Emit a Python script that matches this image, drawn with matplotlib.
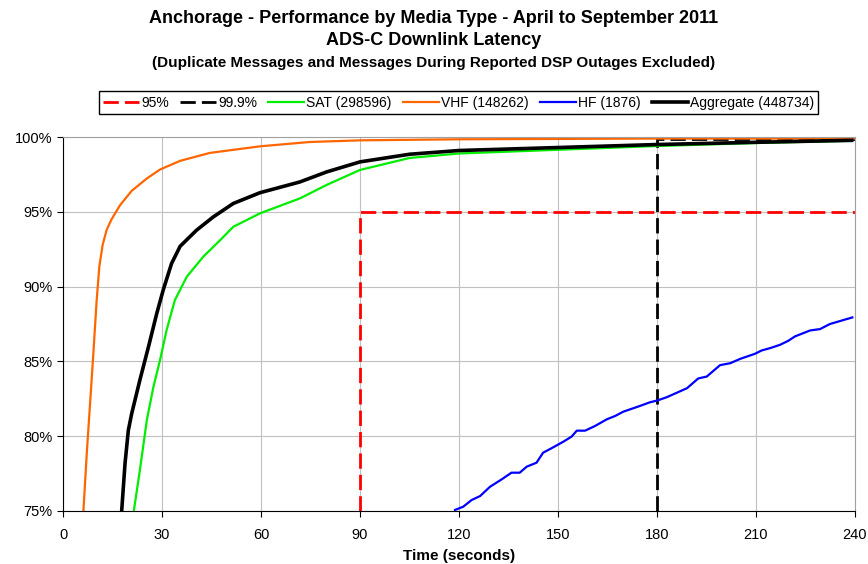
import matplotlib.pyplot as plt
from matplotlib.ticker import FuncFormatter

plt.rcParams['font.family'] = ['Liberation Sans', 'DejaVu Sans']

# Données (temps en secondes, pourcentage cumulé)
vhf_t = [6.2, 7.2, 8.2, 9.2, 10.2, 11.0, 12.0, 13.2, 14.7, 17.3, 20.8, 25.4, 29.4, 35.5, 44.5,
         59.7, 74.8, 90, 120, 180, 240]
vhf_y = [75.07, 78.86, 82.2, 85.55, 89.1, 91.33, 92.78, 93.78, 94.5, 95.45, 96.4, 97.23, 97.83, 98.41, 98.94,
         99.38, 99.67, 99.78, 99.85, 99.9, 99.9]

agg_t = [17.8, 18.8, 19.8, 20.8, 23.3, 25.9, 28.4, 30.4, 32.9, 35.5, 40.5, 45.6, 51.6, 59.7, 71.8,
         79.9, 90, 105, 120, 150, 180, 210, 239]
agg_y = [75.07, 78.2, 80.4, 81.5, 83.76, 85.98, 88.2, 89.8, 91.55, 92.7, 93.78, 94.67, 95.56, 96.28, 97.0,
         97.67, 98.34, 98.85, 99.1, 99.3, 99.5, 99.65, 99.78]

sat_t = [21.5, 23.3, 25.4, 27.4, 29.4, 31.4, 33.9, 37.5, 42.5, 47.6, 51.6, 59.7, 71.8, 79.9, 90,
         105, 120, 150, 180, 210, 239]
sat_y = [75.07, 77.74, 81.08, 83.3, 85.09, 87.1, 89.1, 90.66, 92.0, 93.1, 94.0, 94.9, 95.9, 96.8, 97.8,
         98.6, 98.9, 99.15, 99.4, 99.6, 99.75]

hf_t = [118.8, 121.3, 123.8, 126.4, 129.4, 132.9, 135.9, 138.4, 140.5, 143.5, 145.5, 148.0, 151.6, 154.1,
        155.7, 158.2, 161.2, 164.8, 167.3, 169.8, 174.8, 177.9, 180, 183, 189.1, 192.5, 195.1, 199.1,
        202.2, 205.2, 209.7, 211.7, 214.3, 217.3, 219.8, 221.8, 226.4, 229.4, 232.4, 239.2]
hf_y = [75.07, 75.29, 75.73, 76.0, 76.62, 77.11, 77.56, 77.56, 77.96, 78.23, 78.9, 79.19, 79.63, 79.97,
        80.37, 80.37, 80.68, 81.13, 81.35, 81.64, 82.02, 82.27, 82.38, 82.61, 83.21, 83.86, 83.99, 84.75,
        84.88, 85.17, 85.51, 85.73, 85.89, 86.11, 86.38, 86.67, 87.07, 87.16, 87.5, 87.94]

p95_t = [90, 90, 240]
p95_y = [75, 95, 95]
p999_t = [180, 180, 240]
p999_y = [75, 99.9, 99.9]

fig = plt.figure(figsize=(8.68, 5.64), dpi=100)
ax = fig.add_axes([0.0726, 0.094, 0.9124, 0.663])

ax.plot(p95_t, p95_y, color='#ff0000', lw=2, dashes=(5.5, 2.2), label='95%')
ax.plot(p999_t, p999_y, color='black', lw=2, dashes=(5.5, 2.2), label='99.9%')
ax.plot(sat_t, sat_y, color='#00ee00', lw=1.6, label='SAT (298596)')
ax.plot(vhf_t, vhf_y, color='#ff6600', lw=1.6, label='VHF (148262)')
ax.plot(hf_t, hf_y, color='#0000ff', lw=1.6, label='HF (1876)')
ax.plot(agg_t, agg_y, color='black', lw=2.6, label='Aggregate (448734)')

ax.set_xlim(0, 240)
ax.set_ylim(75, 100)
ax.set_xticks(range(0, 241, 30))
ax.set_yticks(range(75, 101, 5))
ax.yaxis.set_major_formatter(FuncFormatter(lambda v, p: '%d%%' % v))
ax.tick_params(labelsize=10.5, direction='out', length=4)
ax.tick_params(axis='x', pad=8)
ax.grid(True, color='#c0c0c0', lw=0.8)
ax.set_axisbelow(True)
for s in ['top', 'right']:
    ax.spines[s].set_color('#a0a0a0')
ax.set_xlabel('Time (seconds)', fontsize=11, fontweight='bold', labelpad=5)

fig.text(0.499, 0.968, 'Anchorage - Performance by Media Type - April to September 2011',
         ha='center', va='center', fontsize=13, fontweight='bold')
fig.text(0.499, 0.928, 'ADS-C Downlink Latency', ha='center', va='center', fontsize=13, fontweight='bold')
fig.text(0.499, 0.889, '(Duplicate Messages and Messages During Reported DSP Outages Excluded)',
         ha='center', va='center', fontsize=11, fontweight='bold')

fig.legend(loc='center', bbox_to_anchor=(0.528, 0.818), ncol=6, fontsize=10,
           frameon=True, fancybox=False, edgecolor='black', framealpha=1,
           borderpad=0.3, handlelength=2.6, handletextpad=0.15, columnspacing=0.8)

fig.savefig('out.png', dpi=100)
